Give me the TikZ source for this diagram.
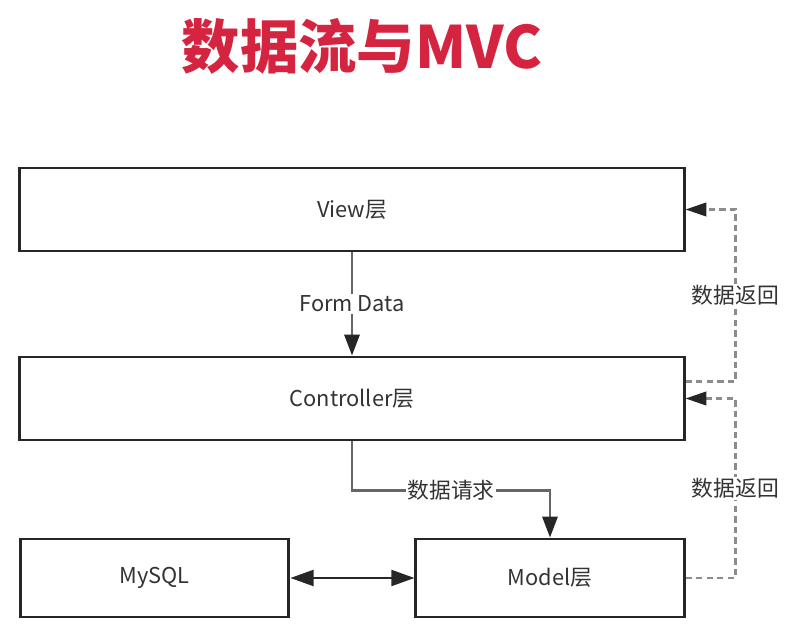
\documentclass[tikz,border=0pt]{standalone}
\usepackage{fontspec}
\setmainfont{Noto Sans CJK SC}
\usetikzlibrary{positioning, calc, arrows.meta}

\definecolor{titlered}{HTML}{D4243F}
\definecolor{textgray}{HTML}{333333}

\tikzset{
    layer/.style={draw=black!85, line width=2.1pt, rectangle, text=textgray,
        font=\fontsize{15.5}{18}\selectfont},
    flow/.style={draw=black!60, line width=1.6pt,
        -{Triangle[length=0.52cm, width=0.38cm, color=black!85]}},
    backflow/.style={draw=black!45, line width=1.6pt, dash pattern=on 4.5pt off 3pt,
        -{Triangle[length=0.52cm, width=0.34cm, color=black!85]}},
    both/.style={draw=black!85, line width=1.6pt,
        {Triangle[length=0.58cm, width=0.4cm]}-{Triangle[length=0.58cm, width=0.4cm]}},
    lbl/.style={fill=white, inner sep=1pt, text=textgray, font=\fontsize{15.5}{18}\selectfont}
}

\begin{document}
\begin{tikzpicture}[x=0.025cm, y=-0.025cm]

        \useasboundingbox (0,0) rectangle (792,636);

        % title
        \node[text=titlered, font=\bfseries\fontsize{41.5}{45}\selectfont] (title) at (362,46) {数据流与MVC};

        % layers
        \node[layer, minimum width=16.6cm, minimum height=2.075cm] (view) at (352,209.5) {View层};
        \node[layer, minimum width=16.6cm, minimum height=2.075cm] (ctrl) at (352,398.5) {Controller层};
        \node[layer, minimum width=6.72cm, minimum height=1.95cm] (mysql) at (154.5,578) {MySQL};
        \node[layer, minimum width=6.7cm, minimum height=1.95cm] (model) at (550,578) {Model层};

        % forward flow
        \draw[flow] (view) -- (ctrl) node[lbl, midway] {Form Data};
        \draw[flow] (ctrl.south) -- ++(0,49) -| (model.north) node[lbl, pos=0.25] {数据请求};
        \draw[both] (mysql) -- (model);

        % data back
        \coordinate (ctrlout) at ($(ctrl.east)+(0,-17)$);
        \draw[backflow] (ctrlout) -- ++(50,0) |- (view.east) node[lbl, pos=0.25] {数据返回};
        \draw[backflow] (model.east) -- ++(50,0) |- (ctrl.east) node[lbl, pos=0.25] {数据返回};

\end{tikzpicture}
\end{document}
